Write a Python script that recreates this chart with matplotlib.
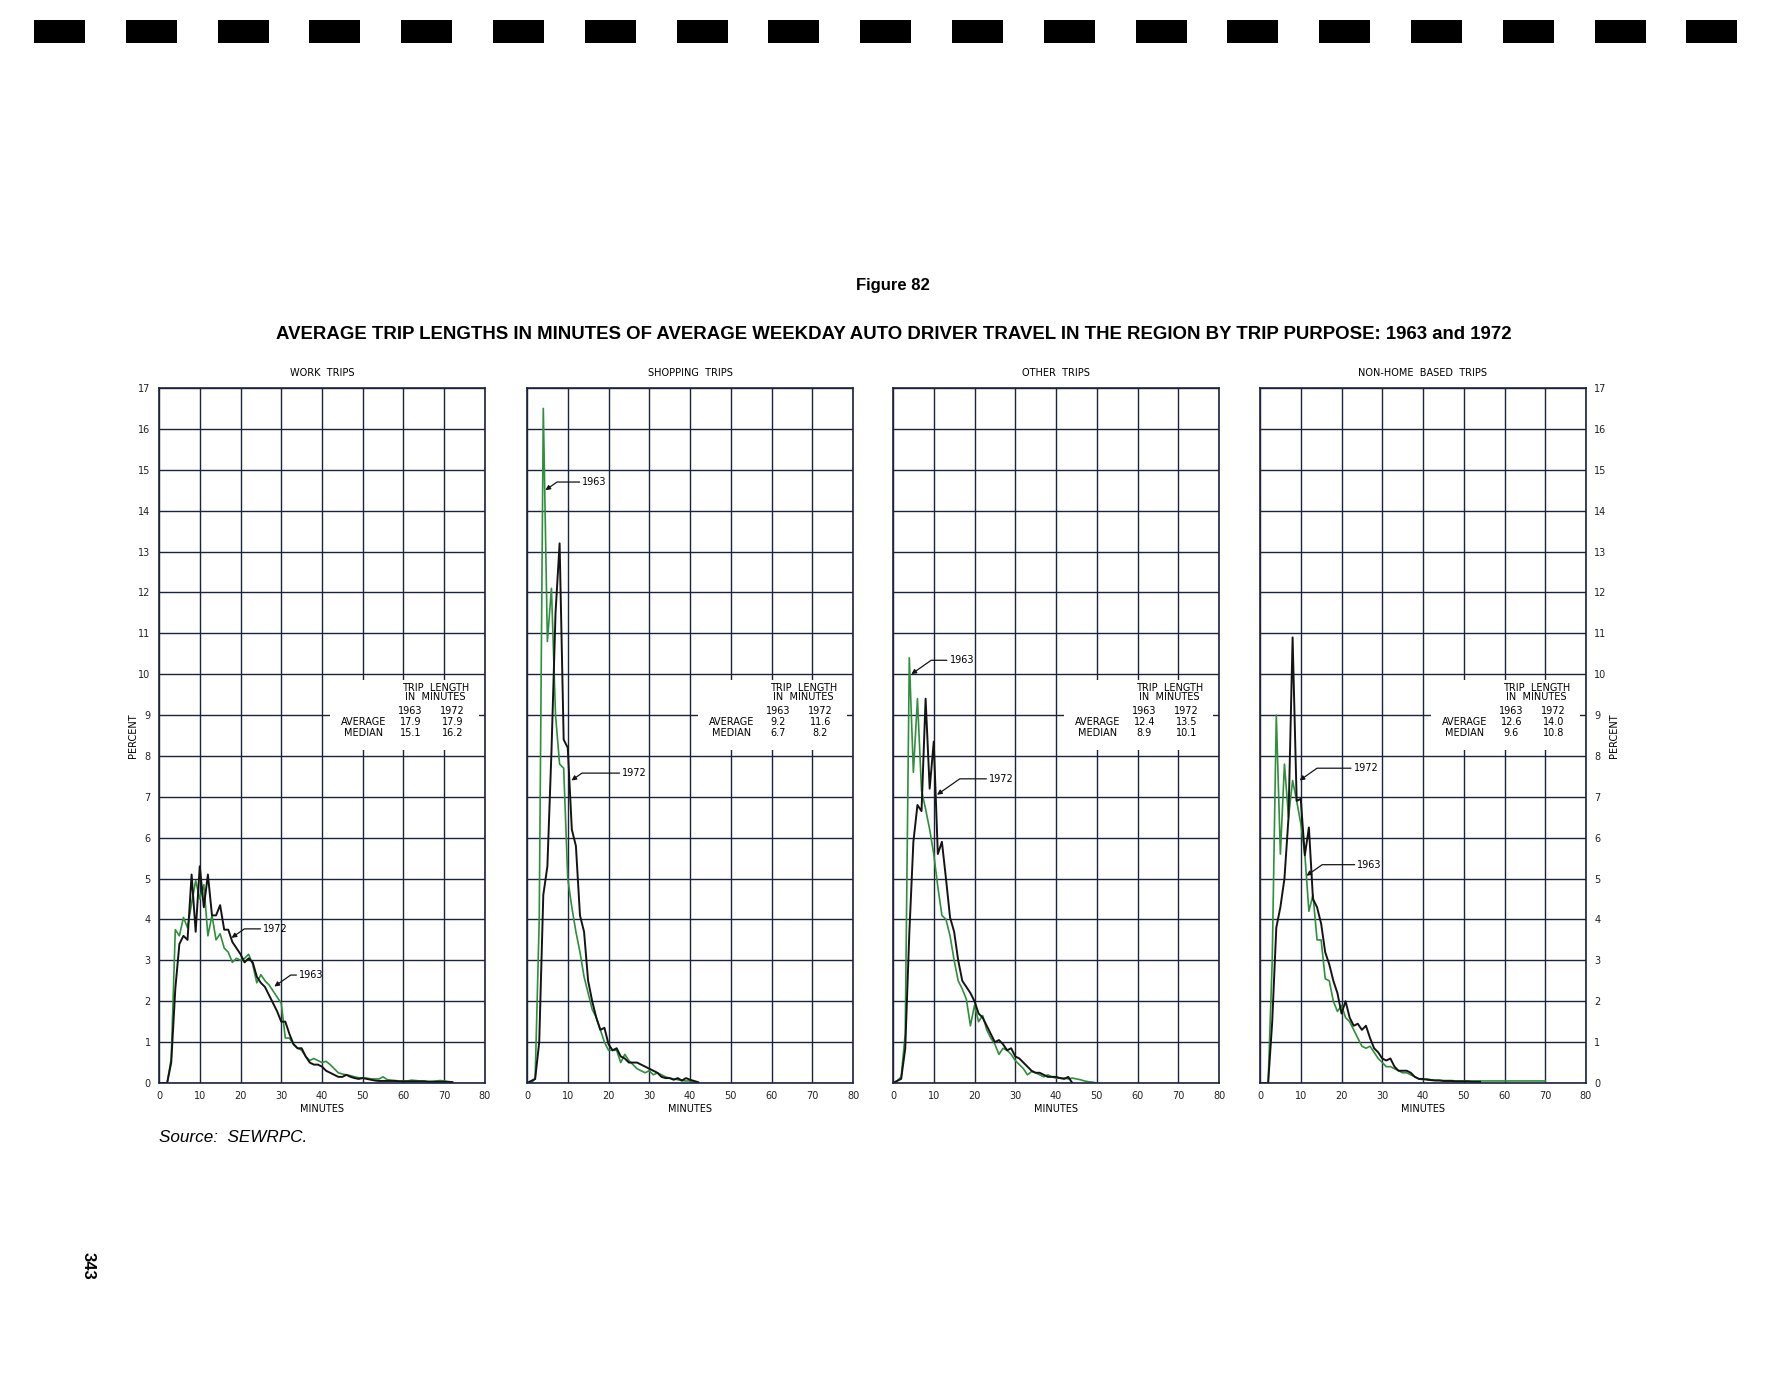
import numpy as np
import matplotlib
matplotlib.use('Agg')
import matplotlib.pyplot as plt
from matplotlib.patches import Rectangle

# Dane (procent podróży na każdą minutę, od minuty 0)
panel_titles = ['WORK  TRIPS', 'SHOPPING  TRIPS', 'OTHER  TRIPS', 'NON-HOME  BASED  TRIPS']

work_1963 = [0, 0, 0, 0.6, 3.75, 3.6, 4.05, 3.8, 4.4, 4.95, 4.5, 4.85, 3.6, 4.1, 3.5, 3.65, 3.3, 3.2,
             2.95, 3.05, 3.0, 3.05, 3.15, 2.9, 2.45, 2.65, 2.5, 2.4, 2.25, 2.1, 1.95, 1.1, 1.1, 0.95,
             0.85, 0.8, 0.65, 0.55, 0.6, 0.55, 0.5, 0.53, 0.45, 0.35, 0.25, 0.22, 0.2, 0.18, 0.15,
             0.13, 0.12, 0.12, 0.1, 0.1, 0.1, 0.15, 0.08, 0.07, 0.06, 0.05, 0.05, 0.05, 0.07, 0.06,
             0.05, 0.05, 0.04, 0.04, 0.05, 0.06, 0.05, 0.03, 0.02]
work_1972 = [0, 0, 0, 0.5, 2.3, 3.4, 3.6, 3.5, 5.1, 3.7, 5.3, 4.3, 5.1, 4.1, 4.1, 4.35, 3.75, 3.75,
             3.45, 3.3, 3.15, 2.95, 3.05, 2.95, 2.6, 2.45, 2.35, 2.15, 1.95, 1.75, 1.5, 1.5, 1.2,
             0.95, 0.85, 0.85, 0.65, 0.5, 0.45, 0.45, 0.4, 0.3, 0.25, 0.2, 0.15, 0.15, 0.2, 0.15,
             0.12, 0.1, 0.12, 0.1, 0.08, 0.06, 0.05, 0.05, 0.05, 0.05, 0.05, 0.04, 0.04, 0.04, 0.04,
             0.04, 0.04, 0.04, 0.03, 0.03, 0.03, 0.03, 0.03, 0.03, 0.02]

shop_1963 = [0, 0, 0.1, 4.0, 16.5, 10.8, 12.1, 9.0, 7.8, 7.7, 5.0, 4.3, 3.7, 3.2, 2.6, 2.2, 1.8, 1.6,
             1.3, 1.0, 0.8, 0.8, 0.8, 0.5, 0.7, 0.55, 0.45, 0.35, 0.3, 0.25, 0.3, 0.2, 0.25, 0.2,
             0.15, 0.12, 0.1, 0.08, 0.06, 0.05, 0.05, 0.03, 0.0]
shop_1972 = [0, 0.05, 0.1, 1.0, 4.6, 5.3, 8.1, 11.5, 13.2, 8.4, 8.2, 6.2, 5.8, 4.1, 3.7, 2.5, 2.0,
             1.6, 1.3, 1.35, 0.95, 0.8, 0.85, 0.65, 0.6, 0.5, 0.5, 0.5, 0.45, 0.4, 0.35, 0.3, 0.25,
             0.15, 0.12, 0.12, 0.08, 0.12, 0.06, 0.12, 0.08, 0.05, 0.02]

other_1963 = [0, 0.05, 0.15, 1.2, 10.4, 7.6, 9.4, 7.15, 6.7, 6.2, 5.6, 4.8, 4.1, 4.0, 3.6, 3.0, 2.5,
              2.3, 2.05, 1.4, 1.9, 1.5, 1.65, 1.3, 1.1, 0.95, 0.7, 0.85, 0.8, 0.7, 0.55, 0.45, 0.35,
              0.2, 0.28, 0.25, 0.2, 0.15, 0.2, 0.15, 0.12, 0.12, 0.12, 0.1, 0.12, 0.1, 0.08, 0.05,
              0.03, 0.02, 0.0]
other_1972 = [0, 0.05, 0.1, 0.84, 3.65, 5.9, 6.8, 6.65, 9.4, 7.2, 8.35, 5.6, 5.9, 5.0, 4.05, 3.7,
              3.0, 2.5, 2.35, 2.2, 2.0, 1.7, 1.6, 1.4, 1.2, 1.0, 1.05, 0.95, 0.8, 0.85, 0.65, 0.6,
              0.5, 0.4, 0.3, 0.25, 0.25, 0.2, 0.15, 0.15, 0.15, 0.12, 0.1, 0.15, 0.0]

nhb_1963 = [0, 0, 0, 3.0, 9.0, 5.6, 7.8, 6.5, 7.4, 6.9, 6.35, 5.6, 4.2, 4.6, 3.5, 3.5, 2.55, 2.5,
            2.0, 1.75, 1.9, 1.6, 1.5, 1.3, 1.1, 0.9, 0.85, 0.9, 0.75, 0.6, 0.5, 0.4, 0.4, 0.35,
            0.3, 0.25, 0.25, 0.2, 0.15, 0.1, 0.08, 0.1, 0.08, 0.07, 0.07, 0.06, 0.06, 0.06, 0.05,
            0.05, 0.05, 0.05, 0.05, 0.05, 0.05, 0.05, 0.05, 0.05, 0.05, 0.05, 0.05, 0.05, 0.05,
            0.05, 0.05, 0.05, 0.05, 0.05, 0.05, 0.05, 0.05]
nhb_1972 = [0, 0, 0, 1.5, 3.8, 4.3, 5.0, 6.5, 10.9, 6.9, 6.95, 5.57, 6.25, 4.5, 4.3, 3.9, 3.2, 2.9,
            2.5, 2.2, 1.7, 2.0, 1.6, 1.4, 1.45, 1.3, 1.4, 1.1, 0.85, 0.75, 0.6, 0.55, 0.6, 0.4,
            0.3, 0.3, 0.3, 0.25, 0.15, 0.1, 0.1, 0.08, 0.07, 0.06, 0.06, 0.05, 0.05, 0.05, 0.04,
            0.04, 0.04, 0.04, 0.03, 0.03, 0.03]

series_1963 = [work_1963, shop_1963, other_1963, nhb_1963]
series_1972 = [work_1972, shop_1972, other_1972, nhb_1972]

# Statystyki w ramce
avg_1963 = ['17.9', '9.2', '12.4', '12.6']
avg_1972 = ['17.9', '11.6', '13.5', '14.0']
med_1963 = ['15.1', '6.7', '8.9', '9.6']
med_1972 = ['16.2', '8.2', '10.1', '10.8']

# Etykiety linii: (tekst, punkt na krzywej, pozycja tekstu)
labels = [
    [('1972', (17.8, 3.55), (25.6, 3.77)), ('1963', (28.3, 2.36), (34.4, 2.64))],
    [('1963', (4.5, 14.5), (13.6, 14.7)), ('1972', (10.9, 7.4), (23.4, 7.58))],
    [('1963', (4.5, 10.0), (13.9, 10.34)), ('1972', (10.8, 7.05), (23.6, 7.44))],
    [('1972', (9.7, 7.4), (23.0, 7.7)), ('1963', (11.4, 5.07), (23.9, 5.34))],
]

GREEN = '#2f8f3c'
BLACK = '#141414'
GRID = '#1c2340'

fig = plt.figure(figsize=(17.72, 13.8), dpi=100)
fig.patch.set_facecolor('white')

lefts = [159, 527, 893, 1260]
for i in range(4):
    ax = fig.add_axes([lefts[i] / 1772, 1 - 1083 / 1380, 326 / 1772, 695 / 1380])
    ax.set_xlim(0, 80)
    ax.set_ylim(0, 17)
    ax.set_xticks(range(0, 81, 10))
    ax.set_yticks(range(0, 18))
    ax.grid(True, color=GRID, linewidth=1.0)
    ax.set_axisbelow(True)
    for s in ax.spines.values():
        s.set_color(GRID)
        s.set_linewidth(1.2)
    ax.tick_params(length=0, labelsize=7, colors='#222222', pad=6)
    if i == 0:
        ax.set_ylabel('PERCENT', fontsize=7, labelpad=0)
    elif i == 3:
        ax.yaxis.tick_right()
        ax.yaxis.set_label_position('right')
        ax.set_ylabel('PERCENT', fontsize=7, labelpad=2, rotation=90)
    else:
        ax.set_yticklabels([])
    ax.set_xlabel('MINUTES', fontsize=7, labelpad=2)
    ax.set_title(panel_titles[i], fontsize=7, pad=9)

    # Biała ramka pod tabelką
    ax.add_patch(Rectangle((42, 8.15), 36.5, 1.7, facecolor='white', edgecolor='none', zorder=1))
    tk = dict(fontsize=7, ha='center', va='center', zorder=3)
    ax.text(67.8, 9.65, 'TRIP  LENGTH', **tk)
    ax.text(67.8, 9.43, 'IN  MINUTES', **tk)
    ax.text(61.7, 9.1, '1963', **tk)
    ax.text(72.0, 9.1, '1972', **tk)
    ax.text(50.3, 8.82, 'AVERAGE', **tk)
    ax.text(50.3, 8.55, 'MEDIAN', **tk)
    ax.text(61.7, 8.82, avg_1963[i], **tk)
    ax.text(72.0, 8.82, avg_1972[i], **tk)
    ax.text(61.7, 8.55, med_1963[i], **tk)
    ax.text(72.0, 8.55, med_1972[i], **tk)

    y63 = series_1963[i]
    y72 = series_1972[i]
    ax.plot(np.arange(len(y63)), y63, color=GREEN, linewidth=1.2, zorder=2)
    ax.plot(np.arange(len(y72)), y72, color=BLACK, linewidth=1.4, zorder=2)

    for txt, pt, pos in labels[i]:
        ax.annotate(txt, xy=pt, xytext=pos, fontsize=7, ha='left', va='center', zorder=4,
                    arrowprops=dict(arrowstyle='-|>', color=BLACK, lw=0.9, mutation_scale=7,
                                    shrinkA=0, shrinkB=0,
                                    connectionstyle='angle,angleA=0,angleB=35,rad=0'))

fig.text(0.504, 0.793, 'Figure 82', ha='center', va='center', fontsize=12,
         family='Liberation Sans', weight='bold')
fig.text(0.5045, 0.7575,
         'AVERAGE TRIP LENGTHS IN MINUTES OF AVERAGE WEEKDAY AUTO DRIVER TRAVEL IN THE REGION BY TRIP PURPOSE: 1963 and 1972',
         ha='center', va='center', fontsize=13.4, family='Liberation Sans', weight='bold')
fig.text(159 / 1772, 1 - 1137 / 1380, 'Source:  SEWRPC.', ha='left', va='center', fontsize=12.3,
         family='Liberation Sans', style='italic')
fig.text(88 / 1772, 1 - 1266 / 1380, '343', ha='center', va='center', fontsize=12,
         family='Liberation Sans', weight='bold', rotation=-90)

# Otwory po bindowaniu na górze strony
for k in range(19):
    x0 = (34 + k * 91.8) / 1772
    fig.patches.append(Rectangle((x0, 1 - 43 / 1380), 51 / 1772, 23 / 1380,
                                 transform=fig.transFigure, facecolor='black', edgecolor='none'))

plt.savefig('out.png', dpi=100)
plt.close()
